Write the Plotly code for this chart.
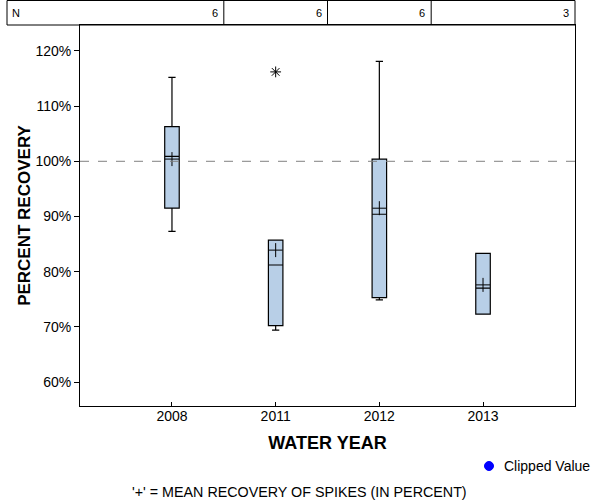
import plotly.graph_objects as go

years = ["2008", "2011", "2012", "2013"]
n_counts = [6, 6, 6, 3]
q1 = [91.5, 70.2, 75.3, 72.3]
median = [100.9, 81.2, 90.4, 77.0]
q3 = [106.3, 85.7, 100.4, 83.3]
lower_whisker = [87.3, 69.4, 74.9, 72.3]
upper_whisker = [115.2, 85.7, 118.1, 83.3]
means = [100.4, 83.9, 91.5, 77.6]
outlier_years = ["2011"]
outlier_values = [116.2]
y_ticks = [60, 70, 80, 90, 100, 110, 120]

X_RANGE = [-0.887, 3.887]
Y_RANGE = [55.65, 124.7]
FONT = "Liberation Sans, Arial, sans-serif"

fig = go.Figure()

fig.add_trace(go.Box(
    x=years, q1=q1, median=median, q3=q3,
    lowerfence=lower_whisker, upperfence=upper_whisker,
    fillcolor="#B8CFE7", line=dict(color="black", width=1.2),
    width=0.14, whiskerwidth=0.5, boxpoints=False,
    showlegend=False, hoverinfo="skip",
))

fig.add_trace(go.Scatter(
    x=years, y=means, mode="markers",
    marker=dict(symbol="cross-thin", size=10, line=dict(color="black", width=1)),
    showlegend=False, hoverinfo="skip",
))

fig.add_trace(go.Scatter(
    x=outlier_years, y=outlier_values, mode="markers",
    marker=dict(symbol="asterisk", size=9, line=dict(color="black", width=1)),
    showlegend=False, hoverinfo="skip",
))

# reference line at 100%
fig.add_shape(type="line", xref="paper", yref="y", x0=0, x1=1, y0=100, y1=100,
              line=dict(color="#808080", width=1, dash="dash"))

plot_l, plot_r, plot_t, plot_b = 80, 575, 25, 406
pw, ph = plot_r - plot_l, plot_b - plot_t
def px_to_paper_x(px):
    return (px - plot_l) / pw
def px_to_paper_y(py):
    return (plot_b - py) / ph
def data_to_paper_x(v):
    return (v - X_RANGE[0]) / (X_RANGE[1] - X_RANGE[0])

# N table above the plot
tab_bottom = 1.0
tab_top = px_to_paper_y(0.5)
tab_left = px_to_paper_x(7)
fig.add_shape(type="rect", xref="paper", yref="paper",
              x0=tab_left, x1=1, y0=tab_bottom, y1=tab_top,
              line=dict(color="black", width=1))
bounds = [tab_left] + [data_to_paper_x(i + 0.5) for i in range(len(years) - 1)] + [1.0]
for b in bounds[1:-1]:
    fig.add_shape(type="line", xref="paper", yref="paper",
                  x0=b, x1=b, y0=tab_bottom, y1=tab_top,
                  line=dict(color="black", width=1))
for i, n in enumerate(n_counts):
    fig.add_annotation(xref="paper", yref="paper", x=bounds[i + 1] - 4 / pw,
                       y=(tab_bottom + tab_top) / 2, text=str(n), showarrow=False,
                       xanchor="right", yanchor="middle",
                       font=dict(family=FONT, size=11, color="black"))
fig.add_annotation(xref="paper", yref="paper", x=tab_left + 3 / pw,
                   y=(tab_bottom + tab_top) / 2, text="N", showarrow=False,
                   xanchor="left", yanchor="middle",
                   font=dict(family=FONT, size=11, color="black"))

# legend-like key for clipped values
cx, cy, r = 489, 466, 4.5
fig.add_shape(type="circle", xref="paper", yref="paper",
              x0=px_to_paper_x(cx - r), x1=px_to_paper_x(cx + r),
              y0=px_to_paper_y(cy + r), y1=px_to_paper_y(cy - r),
              fillcolor="#0000FF", line=dict(color="#0000FF", width=1))
fig.add_annotation(xref="paper", yref="paper", x=px_to_paper_x(502), y=px_to_paper_y(466),
                   text="Clipped Value", showarrow=False, xanchor="left", yanchor="middle",
                   font=dict(family=FONT, size=14, color="black"))

fig.add_annotation(xref="paper", yref="paper", x=px_to_paper_x(299), y=px_to_paper_y(492),
                   text="'+' = MEAN RECOVERY OF SPIKES (IN PERCENT)", showarrow=False,
                   xanchor="center", yanchor="middle",
                   font=dict(family=FONT, size=14.3, color="black"))

fig.update_layout(
    width=600, height=500,
    margin=dict(l=plot_l, r=600 - plot_r, t=plot_t, b=500 - plot_b, autoexpand=False),
    paper_bgcolor="white", plot_bgcolor="white",
    font=dict(family=FONT, size=14, color="black"),
    showlegend=False,
    xaxis=dict(
        type="category", categoryorder="array", categoryarray=years,
        range=X_RANGE, showgrid=False, zeroline=False, automargin=False,
        showline=True, linecolor="black", linewidth=1, mirror=True,
        ticks="inside", ticklen=4, tickcolor="black", ticklabelstandoff=-3,
        tickfont=dict(family=FONT, size=14, color="black"),
        title=dict(text="<b>WATER YEAR</b>", font=dict(family=FONT, size=18, color="black"),
                   standoff=13),
    ),
    yaxis=dict(
        range=Y_RANGE, tickvals=y_ticks, ticktext=[f"{t}%" for t in y_ticks],
        showgrid=False, zeroline=False, automargin=False,
        showline=True, linecolor="black", linewidth=1, mirror=True,
        ticks="outside", ticklen=5, tickcolor="black",
        tickfont=dict(family=FONT, size=14, color="black"),
        title=dict(text="<b>PERCENT RECOVERY</b>", font=dict(family=FONT, size=17, color="black"),
                   standoff=0),
    ),
)

fig.write_html("out.html", config={"displayModeBar": False},
               post_script="document.body.style.margin='0';")
